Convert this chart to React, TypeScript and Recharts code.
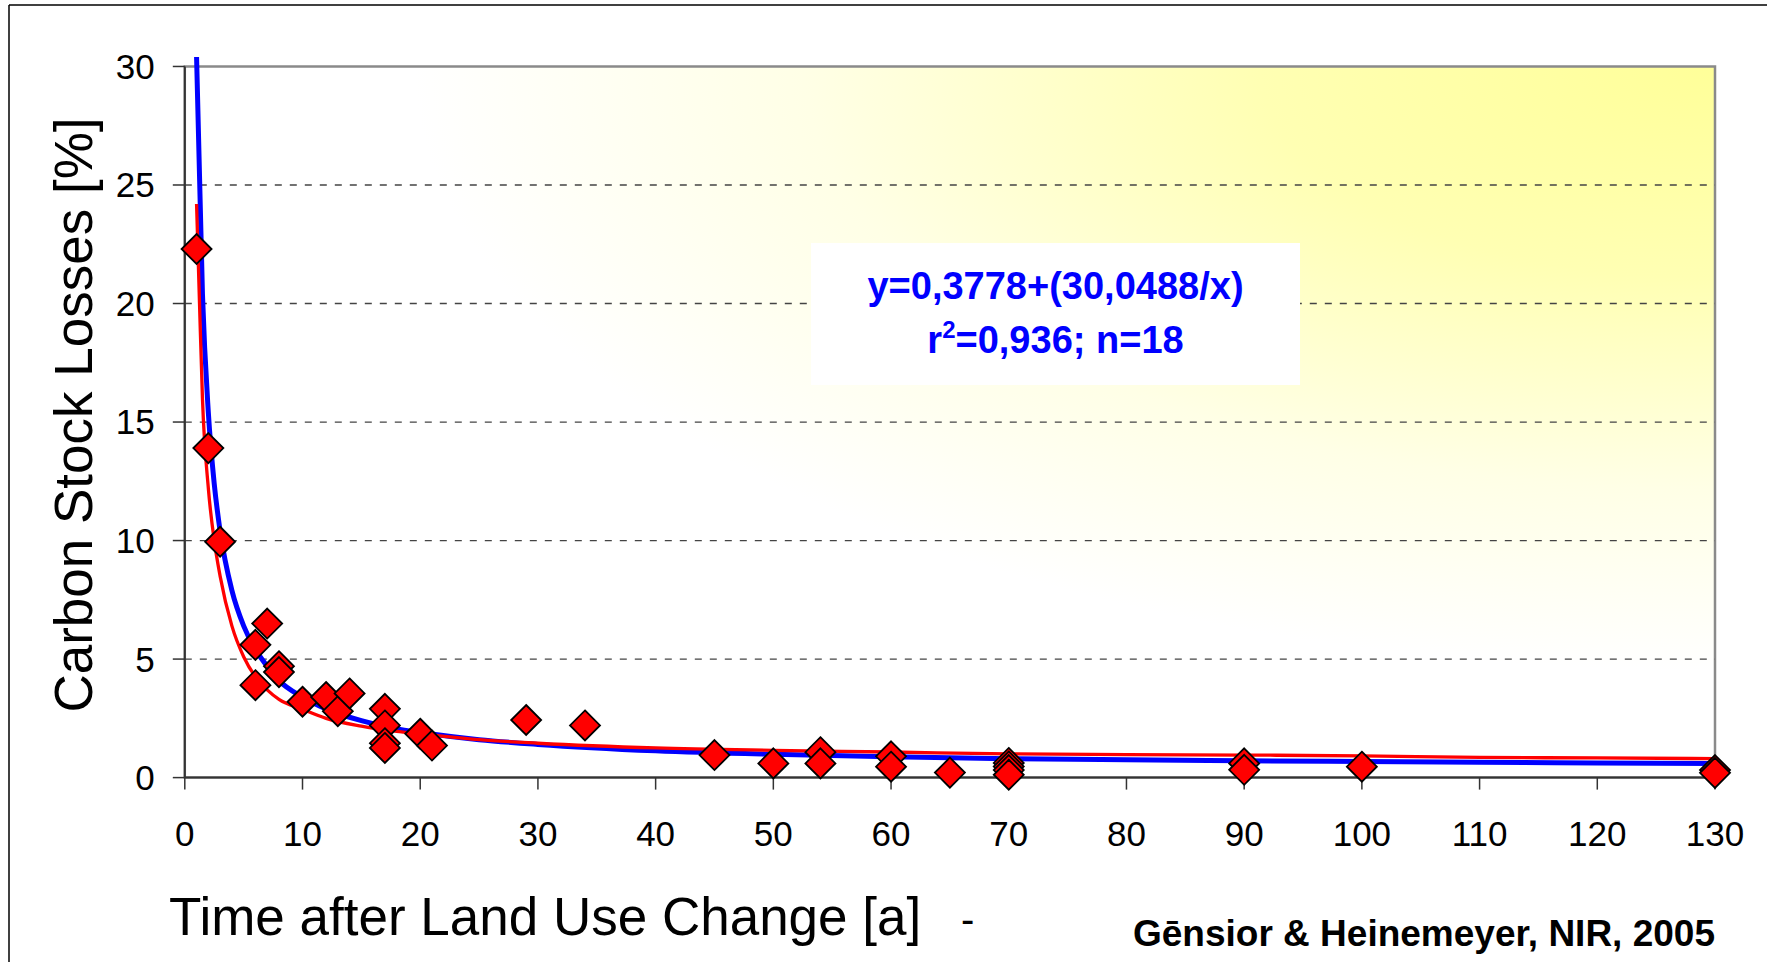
import React from 'react';
import {
  ComposedChart,
  XAxis,
  YAxis,
  Line,
  Scatter,
  ReferenceArea,
  ReferenceLine,
} from 'recharts';

// ---- data ----
const xTicks = [0, 10, 20, 30, 40, 50, 60, 70, 80, 90, 100, 110, 120, 130];
const yTicks = [0, 5, 10, 15, 20, 25, 30];
const gridValues = [5, 10, 15, 20, 25];

// observed carbon stock losses (diamonds)
const obsYears = [1, 2, 3, 6, 6, 7, 8, 8, 10, 12, 13, 14, 17, 17, 17, 17, 20, 21, 29, 34, 45, 50, 54, 54, 60, 60, 65, 70, 70, 70, 70, 90, 90, 100, 130, 130];
const obsLoss = [22.3, 13.9, 9.95, 5.6, 3.9, 6.5, 4.7, 4.45, 3.2, 3.4, 2.8, 3.55, 2.9, 2.2, 1.45, 1.25, 1.85, 1.35, 2.43, 2.2, 0.95, 0.6, 1.07, 0.6, 0.9, 0.46, 0.21, 0.62, 0.47, 0.32, 0.12, 0.6, 0.33, 0.46, 0.32, 0.2];

// blue fitted curve
const blueYears = [1, 1.5, 2, 2.5, 3, 4, 5, 6, 7, 8, 10, 12, 15, 18, 20, 25, 30, 40, 50, 60, 70, 80, 90, 100, 110, 120, 130];
const blueLoss = [30.4, 20.4, 15.4, 12.4, 10.4, 7.9, 6.4, 5.4, 4.7, 4.1, 3.4, 2.9, 2.4, 2.05, 1.9, 1.6, 1.4, 1.13, 0.98, 0.88, 0.8, 0.75, 0.71, 0.68, 0.65, 0.62, 0.6];

// red curve
const redYears = [1, 1.25, 1.5, 2, 2.5, 3, 4, 5, 6, 7, 8, 10, 12, 15, 18, 20, 25, 30, 40, 50, 60, 70, 80, 90, 100, 110, 120, 130];
const redLoss = [24.2, 20.0, 16.0, 12.2, 10.0, 8.5, 6.4, 5.1, 4.25, 3.7, 3.3, 2.88, 2.5, 2.17, 1.95, 1.85, 1.6, 1.45, 1.25, 1.15, 1.08, 1.0, 0.97, 0.95, 0.92, 0.85, 0.83, 0.8];

const observations = obsYears.map((x, i) => ({ x, y: obsLoss[i] }));
const blueCurve = blueYears.map((x, i) => ({ x, y: blueLoss[i] }));
const redCurve = redYears.map((x, i) => ({ x, y: redLoss[i] }));

const FONT = '"Liberation Sans", Arial, Helvetica, sans-serif';

const Diamond = (props: any) => {
  const { cx, cy } = props;
  if (cx == null || cy == null) return null;
  const r = 15;
  return (
    <polygon
      points={`${cx},${cy - r} ${cx + r},${cy} ${cx},${cy + r} ${cx - r},${cy}`}
      fill="#FF0000"
      stroke="#000000"
      strokeWidth={1.8}
    />
  );
};

export default function App() {
  return (
    <div style={{ position: 'absolute', left: 0, top: 0, width: 1767, height: 962, background: '#fff', fontFamily: FONT }}>
      <ComposedChart
        width={1767}
        height={962}
        margin={{ top: 55.8, right: 52, bottom: 124.4, left: 124.8 }}
      >
        <defs>
          <radialGradient id="plotBg" cx="1" cy="0" r="0.85" gradientUnits="objectBoundingBox">
            <stop offset="0" stopColor="#FFFF99" />
            <stop offset="0.35" stopColor="#FFFFB3" />
            <stop offset="0.7" stopColor="#FFFFE6" />
            <stop offset="1" stopColor="#FFFFFF" />
          </radialGradient>
        </defs>
        <XAxis
          type="number"
          dataKey="x"
          domain={[0, 130]}
          ticks={xTicks}
          interval={0}
          height={60}
          tickSize={12}
          tickMargin={32}
          axisLine={{ stroke: '#333', strokeWidth: 2 }}
          tickLine={{ stroke: '#333', strokeWidth: 1.5 }}
          tick={{ fill: '#000', fontSize: 35, fontFamily: FONT }}
        />
        <YAxis
          type="number"
          dataKey="y"
          domain={[0, 30.45]}
          ticks={yTicks}
          interval={0}
          width={60}
          tickSize={12}
          tickMargin={18}
          axisLine={false}
          tickLine={{ stroke: '#333', strokeWidth: 1.5 }}
          tick={{ fill: '#000', fontSize: 35, fontFamily: FONT }}
        />
        <ReferenceArea
          x1={0}
          x2={130}
          y1={0}
          y2={30}
          fill="url(#plotBg)"
          fillOpacity={1}
          stroke="#8a8a8a"
          strokeWidth={2.5}
        />
        {gridValues.map((v) => (
          <ReferenceLine
            key={v}
            y={v}
            stroke="#444"
            strokeWidth={1.3}
            strokeDasharray="7 8"
          />
        ))}
        <ReferenceLine segment={[{ x: 0, y: 0 }, { x: 0, y: 30 }]} stroke="#333" strokeWidth={2} />
        <Line
          data={blueCurve}
          dataKey="y"
          type="monotone"
          stroke="#0000FF"
          strokeWidth={5}
          dot={false}
          isAnimationActive={false}
        />
        <Line
          data={redCurve}
          dataKey="y"
          type="monotone"
          stroke="#FF0000"
          strokeWidth={3.3}
          dot={false}
          isAnimationActive={false}
        />
        <Scatter data={observations} dataKey="y" shape={Diamond} isAnimationActive={false} />
      </ComposedChart>

      <svg
        width={1767}
        height={962}
        style={{ position: 'absolute', left: 0, top: 0, pointerEvents: 'none' }}
      >
        {/* outer frame */}
        <line x1={9} y1={5} x2={9} y2={962} stroke="#000" strokeWidth={1.5} />
        <line x1={9} y1={5} x2={1767} y2={5} stroke="#000" strokeWidth={1.5} />

        {/* equation box */}
        <rect x={811} y={243} width={489} height={142} fill="#FFFFFF" />
        <text x={1055.5} y={299} textAnchor="middle" fontFamily={FONT} fontWeight="bold" fontSize={38} fill="#0000FF">
          y=0,3778+(30,0488/x)
        </text>
        <text x={1055.5} y={353} textAnchor="middle" fontFamily={FONT} fontWeight="bold" fontSize={38} fill="#0000FF">
          r<tspan dy={-15} fontSize={24}>2</tspan><tspan dy={15}>=0,936; n=18</tspan>
        </text>

        {/* axis titles */}
        <text
          transform="translate(91.7, 415) rotate(-90)"
          textAnchor="middle"
          fontFamily={FONT}
          fontSize={53}
          fill="#000"
        >
          Carbon Stock Losses [%]
        </text>
        <text x={169} y={935} fontFamily={FONT} fontSize={53} fill="#000">
          Time after Land Use Change [a]
        </text>
        <text x={961} y={933} fontFamily={FONT} fontSize={40} fill="#000">-</text>

        {/* source */}
        <text x={1715} y={946} textAnchor="end" fontFamily={FONT} fontWeight="bold" fontSize={37} fill="#000">
          Gēnsior &amp; Heinemeyer, NIR, 2005
        </text>
      </svg>
    </div>
  );
}
